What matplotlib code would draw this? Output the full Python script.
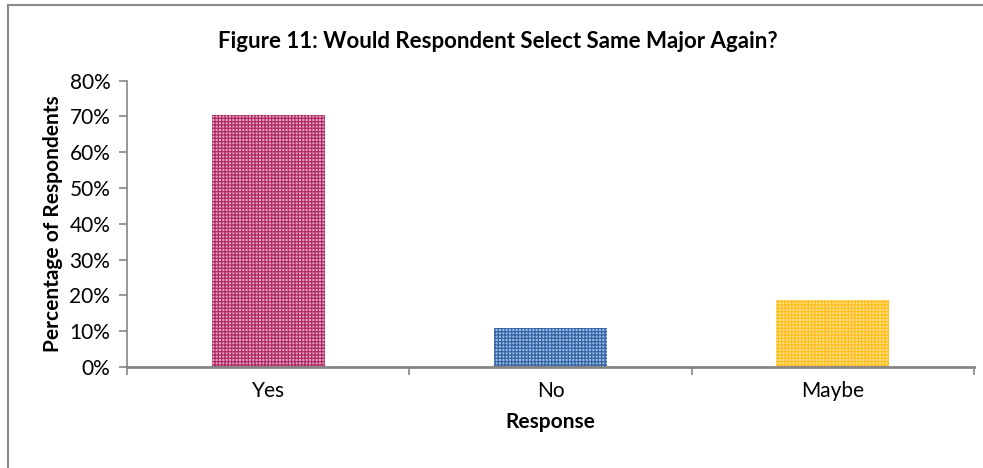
import matplotlib
matplotlib.use("Agg")
import matplotlib.pyplot as plt
from matplotlib.patches import Rectangle
from matplotlib.ticker import FuncFormatter, MultipleLocator

categories = ["Yes", "No", "Maybe"]
percentages = [70.4, 10.9, 18.7]
face_colors = ["#e3a6c3", "#9dbde3", "#ffe08a"]
grid_colors = ["#b02a66", "#3464a6", "#ffbf1f"]

plt.rcParams["font.family"] = ["Lato", "DejaVu Sans"]
plt.rcParams["hatch.linewidth"] = 0.9

fig = plt.figure(figsize=(9.83, 4.68), dpi=100)
ax = fig.add_axes([0.1292, 0.2158, 0.8616, 0.6118])

x = list(range(len(categories)))
for xi, val, fc, hc in zip(x, percentages, face_colors, grid_colors):
    ax.bar(xi, val, width=0.4, color=fc, edgecolor=hc, linewidth=0,
           hatch="+++++")

axis_gray = "#868686"
ax.set_xlim(-0.5, 2.5)
ax.set_ylim(0, 80)
ax.yaxis.set_major_locator(MultipleLocator(10))
ax.yaxis.set_major_formatter(FuncFormatter(lambda v, _: f"{v:.0f}%"))
ax.set_xticks(x)
ax.set_xticklabels(categories)
ax.set_xticks([-0.5, 0.5, 1.5, 2.5], minor=True)
ax.tick_params(axis="x", which="major", length=0, pad=10, labelsize=15)
ax.tick_params(axis="x", which="minor", length=6, color=axis_gray, width=1.2)
ax.tick_params(axis="y", length=6, color=axis_gray, width=1.2, labelsize=15, pad=6)

for side in ("top", "right"):
    ax.spines[side].set_visible(False)
for side in ("left", "bottom"):
    ax.spines[side].set_color(axis_gray)
    ax.spines[side].set_linewidth(1.2)
ax.spines["bottom"].set_linewidth(2.0)

ax.set_ylabel("Percentage of Respondents", fontsize=15, fontweight="bold", labelpad=5)
ax.set_xlabel("Response", fontsize=15, fontweight="bold", labelpad=8)
fig.text(0.506, 0.912, "Figure 11: Would Respondent Select Same Major Again?",
         ha="center", va="center", fontsize=16, fontweight="bold")

# outer chart border
fig.patches.append(Rectangle((8 / 983, -0.05), 1.2, 1.05 - 5.5 / 468,
                             transform=fig.transFigure, fill=False,
                             edgecolor="#8a8a8a", linewidth=1.5))

fig.savefig("out.png", dpi=100)
